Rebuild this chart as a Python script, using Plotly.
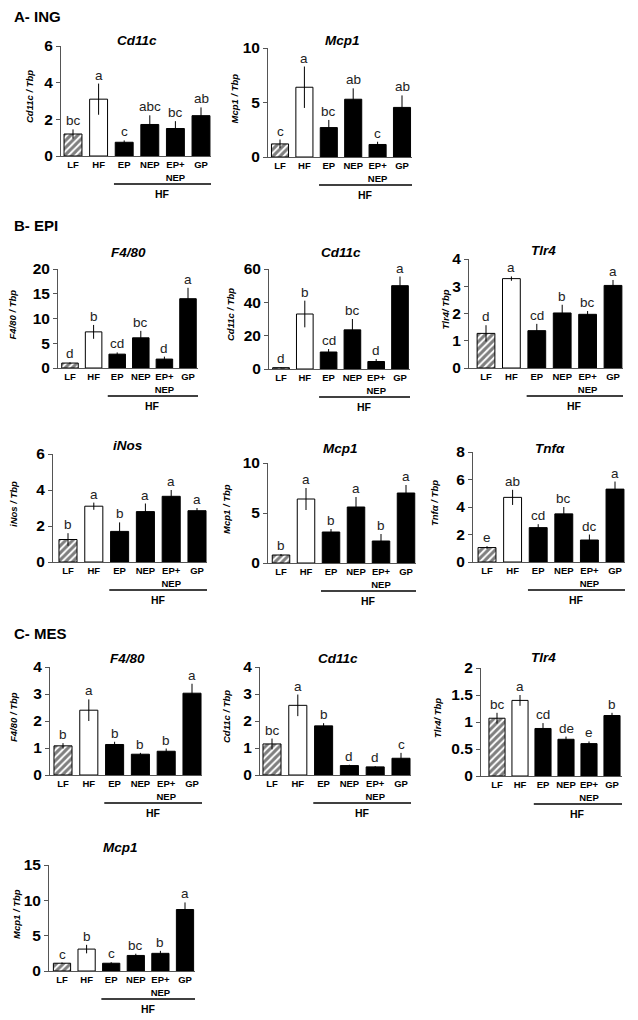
import plotly.graph_objects as go

# ---------------- DATA ----------------
categories = ['LF', 'HF', 'EP', 'NEP', 'EP+<br>NEP', 'GP']

ing_cd11c_mean = [1.2, 3.1, 0.75, 1.72, 1.5, 2.2]
ing_cd11c_err = [0.25, 0.85, 0.1, 0.5, 0.4, 0.45]
ing_cd11c_let = ['bc', 'a', 'c', 'abc', 'bc', 'ab']

ing_mcp1_mean = [1.2, 6.4, 2.7, 5.3, 1.15, 4.55]
ing_mcp1_err = [0.4, 1.9, 0.7, 1.0, 0.25, 1.1]
ing_mcp1_let = ['c', 'a', 'bc', 'ab', 'c', 'ab']

epi_f480_mean = [1.0, 7.3, 2.8, 6.1, 1.8, 14.0]
epi_f480_err = [0.15, 1.4, 0.35, 1.4, 0.5, 2.2]
epi_f480_let = ['d', 'b', 'cd', 'bc', 'd', 'a']

epi_cd11c_mean = [0.8, 33.0, 10.2, 23.5, 4.5, 50.0]
epi_cd11c_err = [0.3, 8.0, 1.8, 6.5, 1.5, 5.5]
epi_cd11c_let = ['d', 'b', 'cd', 'bc', 'd', 'a']

epi_tlr4_mean = [1.27, 3.28, 1.37, 2.02, 1.97, 3.03]
epi_tlr4_err = [0.3, 0.08, 0.25, 0.3, 0.12, 0.2]
epi_tlr4_let = ['d', 'a', 'cd', 'b', 'bc', 'a']

epi_inos_mean = [1.25, 3.1, 1.7, 2.8, 3.65, 2.85]
epi_inos_err = [0.35, 0.2, 0.5, 0.45, 0.35, 0.15]
epi_inos_let = ['b', 'a', 'b', 'a', 'a', 'a']

epi_mcp1_mean = [0.8, 6.4, 3.1, 5.6, 2.2, 7.0]
epi_mcp1_err = [0.1, 1.1, 0.3, 1.0, 0.7, 0.8]
epi_mcp1_let = ['b', 'a', 'b', 'a', 'b', 'a']

epi_tnfa_mean = [1.05, 4.7, 2.5, 3.5, 1.6, 5.3]
epi_tnfa_err = [0.1, 0.55, 0.25, 0.5, 0.4, 0.55]
epi_tnfa_let = ['e', 'ab', 'cd', 'bc', 'dc', 'a']

mes_f480_mean = [1.08, 2.4, 1.13, 0.77, 0.88, 3.03]
mes_f480_err = [0.1, 0.4, 0.1, 0.05, 0.1, 0.35]
mes_f480_let = ['b', 'a', 'b', 'b', 'b', 'a']

mes_cd11c_mean = [1.15, 2.58, 1.82, 0.35, 0.3, 0.62]
mes_cd11c_err = [0.2, 0.4, 0.1, 0.03, 0.03, 0.2]
mes_cd11c_let = ['bc', 'a', 'b', 'd', 'd', 'c']

mes_tlr4_mean = [1.07, 1.4, 0.88, 0.68, 0.6, 1.12]
mes_tlr4_err = [0.1, 0.1, 0.1, 0.05, 0.04, 0.05]
mes_tlr4_let = ['bc', 'a', 'cd', 'de', 'e', 'b']

mes_mcp1_mean = [1.1, 3.1, 1.1, 2.2, 2.5, 8.7]
mes_mcp1_err = [0.1, 0.6, 0.15, 0.25, 0.35, 1.0]
mes_mcp1_let = ['c', 'b', 'c', 'bc', 'b', 'a']

# ---------------- LAYOUT SPECS (pixels in the final page) ----------------
W, H = 638, 1020
OFF = 8  # page body margin
FONT = 'Liberation Sans, Arial, sans-serif'


def PX(x):
    return (x - OFF) / W


def PY(y):
    return 1 - (y - OFF) / H


panels = [
    # mean, err, letters, title, ylabel, x0, lf, gp, y0, ytop, ymax, ticks, title_x, title_y, ylab_x
    (ing_cd11c_mean, ing_cd11c_err, ing_cd11c_let, 'Cd11c', 'Cd11c / Tbp', 61, 73, 201, 156, 46, 6, [0, 2, 4, 6], 137, 40, 29),
    (ing_mcp1_mean, ing_mcp1_err, ing_mcp1_let, 'Mcp1', 'Mcp1 / Tbp', 268, 280, 402, 157, 48, 10, [0, 5, 10], 342, 40, 234),
    (epi_f480_mean, epi_f480_err, epi_f480_let, 'F4/80', 'F4/80 / Tbp', 58, 70, 188, 368, 269, 20, [0, 5, 10, 15, 20], 128, 252, 12),
    (epi_cd11c_mean, epi_cd11c_err, epi_cd11c_let, 'Cd11c', 'Cd11c / Tbp', 269, 281, 400, 369, 269, 60, [0, 20, 40, 60], 341, 252, 230),
    (epi_tlr4_mean, epi_tlr4_err, epi_tlr4_let, 'Tlr4', 'Tlr4/ Tbp', 469, 486, 613, 368, 259, 4, [0, 1, 2, 3, 4], 543, 250, 445),
    (epi_inos_mean, epi_inos_err, epi_inos_let, 'iNos', 'iNos / Tbp', 53, 68, 197, 562, 454, 6, [0, 2, 4, 6], 128, 445, 13),
    (epi_mcp1_mean, epi_mcp1_err, epi_mcp1_let, 'Mcp1', 'Mcp1 / Tbp', 268, 281, 406, 563, 463, 10, [0, 5, 10], 340, 448, 226),
    (epi_tnfa_mean, epi_tnfa_err, epi_tnfa_let, 'Tnfα', 'Tnfα / Tbp', 473, 487, 615, 562, 452, 8, [0, 2, 4, 6, 8], 550, 448, 434),
    (mes_f480_mean, mes_f480_err, mes_f480_let, 'F4/80', 'F4/80 / Tbp', 50, 63, 192, 775, 667, 4, [0, 1, 2, 3, 4], 127, 658, 13),
    (mes_cd11c_mean, mes_cd11c_err, mes_cd11c_let, 'Cd11c', 'Cd11c / Tbp', 260, 272, 401, 775, 667, 4, [0, 1, 2, 3, 4], 338, 658, 226),
    (mes_tlr4_mean, mes_tlr4_err, mes_tlr4_let, 'Tlr4', 'Tlr4/ Tbp', 481, 497, 612, 776, 668, 2, [0, 0.5, 1, 1.5, 2], 543, 657, 437),
    (mes_mcp1_mean, mes_mcp1_err, mes_mcp1_let, 'Mcp1', 'Mcp1 / Tbp', 49, 62, 185, 971, 865, 15, [0, 5, 10, 15], 120, 847, 16),
]

sections = [('A- ING', 12, 17), ('B- EPI', 12, 225), ('C- MES', 12, 633)]

fig = go.Figure()
annotations = []
shapes = []
layout = {}

fill_colors = ['white', 'white', 'black', 'black', 'black', 'black']

for i, p in enumerate(panels):
    (mean, err, lets, title, ylab, x0, lf, gp, y0, ytop, ymax, ticks,
     tx, ty, ylx) = p
    n = i + 1
    xa = 'x' if n == 1 else f'x{n}'
    ya = 'y' if n == 1 else f'y{n}'
    s = (gp - lf) / 5.0
    xr0 = -(lf - x0) / s
    xr1 = 5 + 10.0 / s
    x1 = x0 + (xr1 - xr0) * s
    xs = list(range(len(categories)))

    # LF hatched bar
    fig.add_trace(go.Bar(
        x=xs[:1], y=mean[:1], width=0.7, xaxis=xa, yaxis=ya,
        marker=dict(color='white', line=dict(color='black', width=1),
                    pattern=dict(shape='/', fgcolor='black', bgcolor='white', size=5, solidity=0.6)),
        error_y=dict(type='data', array=err[:1], color='black', thickness=1, width=0),
        cliponaxis=False, showlegend=False, hoverinfo='skip'))
    # other bars
    fig.add_trace(go.Bar(
        x=xs[1:], y=mean[1:], width=0.7, xaxis=xa, yaxis=ya,
        marker=dict(color=fill_colors[1:], line=dict(color='black', width=1)),
        error_y=dict(type='data', array=err[1:], color='black', thickness=1, width=0),
        cliponaxis=False, showlegend=False, hoverinfo='skip'))

    layout['xaxis' if n == 1 else f'xaxis{n}'] = dict(
        domain=[PX(x0), PX(x1)], range=[xr0, xr1], anchor=ya, automargin=False,
        showline=True, linecolor='#555', linewidth=1, ticks='', showgrid=False, zeroline=False,
        tickvals=xs, ticktext=[f'<b>{c}</b>' for c in categories],
        tickfont=dict(family=FONT, size=9.5, color='black'), tickangle=0, fixedrange=True)
    layout['yaxis' if n == 1 else f'yaxis{n}'] = dict(
        domain=[PY(y0), PY(ytop)], range=[0, ymax], anchor=xa, automargin=False,
        showline=True, linecolor='#555', linewidth=1, ticks='outside', ticklen=4, tickcolor='#555',
        showgrid=False, zeroline=False,
        tickvals=ticks, ticktext=[f'<b>{t:g}</b>' for t in ticks],
        tickfont=dict(family=FONT, size=15.5, color='black'), fixedrange=True)

    # letters
    for j, (m, e, l) in enumerate(zip(mean, err, lets)):
        annotations.append(dict(x=j, y=m + e, xref=xa, yref=ya, text=l, showarrow=False,
                                xanchor='center', yanchor='bottom', yshift=-1,
                                font=dict(family=FONT, size=13.5, color='#222')))
    # title
    annotations.append(dict(x=PX(tx), y=PY(ty), xref='paper', yref='paper',
                            text=f'<b><i>{title}</i></b>', showarrow=False,
                            xanchor='center', yanchor='middle',
                            font=dict(family=FONT, size=13.5, color='black')))
    # y label
    annotations.append(dict(x=PX(ylx), y=PY((y0 + ytop) / 2 - 4), xref='paper', yref='paper',
                            text=f'<b><i>{ylab}</i></b>', showarrow=False, textangle=-90,
                            xanchor='center', yanchor='middle',
                            font=dict(family=FONT, size=9.5, color='black')))
    # HF bracket
    shapes.append(dict(type='line', xref=xa, yref='paper', x0=1.6, x1=5.45,
                       y0=PY(y0 + 28), y1=PY(y0 + 28),
                       line=dict(color='black', width=1.6)))
    annotations.append(dict(x=3.5, y=PY(y0 + 38), xref=xa, yref='paper',
                            text='<b>HF</b>', showarrow=False,
                            xanchor='center', yanchor='middle',
                            font=dict(family=FONT, size=10.5, color='black')))

for txt, sx, sy in sections:
    annotations.append(dict(x=PX(sx), y=PY(sy), xref='paper', yref='paper', text=f'<b>{txt}</b>',
                            showarrow=False, xanchor='left', yanchor='middle',
                            font=dict(family=FONT, size=15, color='black')))

fig.update_layout(width=W, height=H, margin=dict(l=0, r=0, t=0, b=0, autoexpand=False),
                  paper_bgcolor='white', plot_bgcolor='white',
                  annotations=annotations, shapes=shapes, barmode='overlay', **layout)

fig.write_html('out.html')
